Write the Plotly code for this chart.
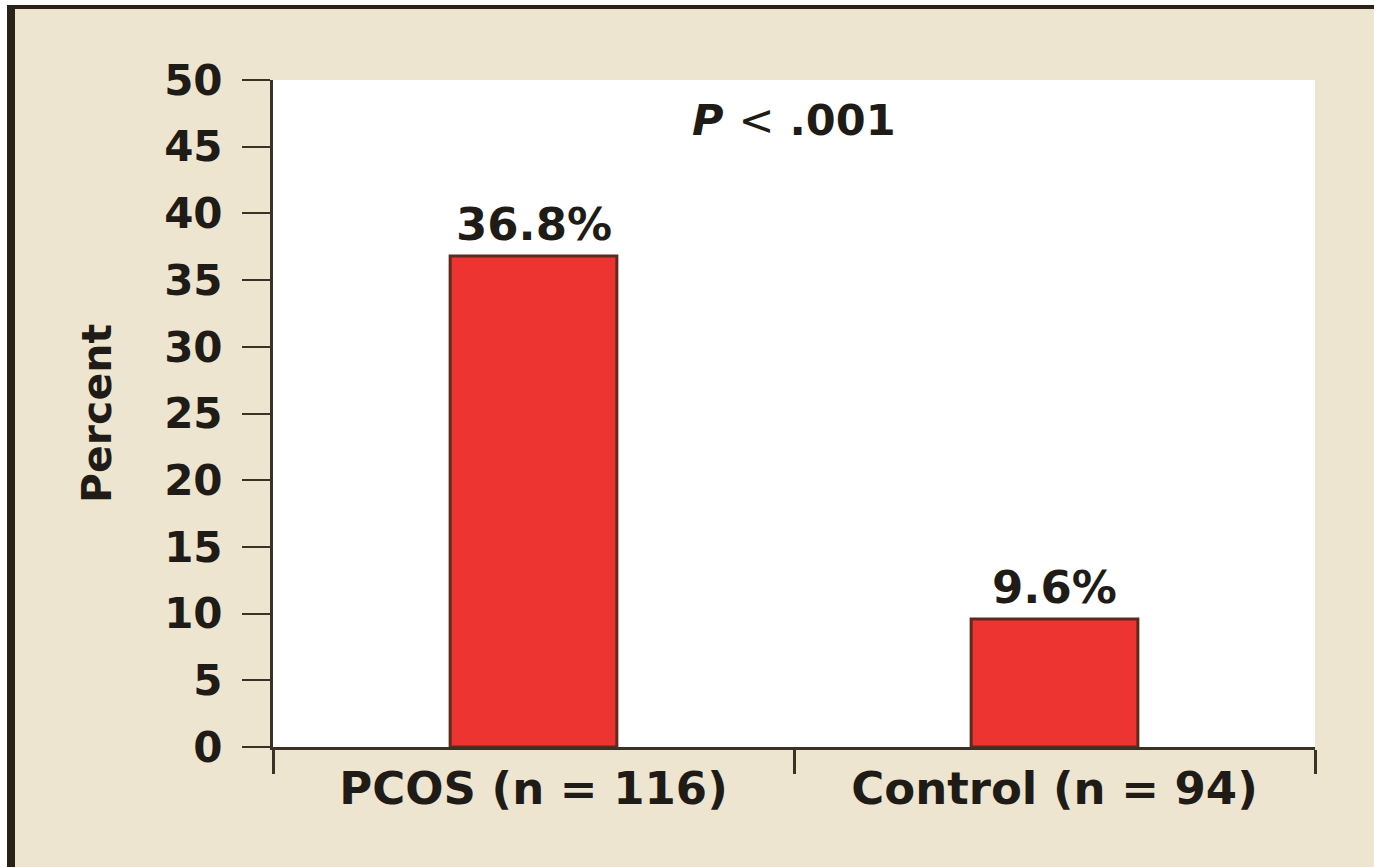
import plotly.graph_objects as go

categories = ["PCOS (n = 116)", "Control (n = 94)"]
values = [36.8, 9.6]
value_labels = ["36.8%", "9.6%"]
y_ticks = [0, 5, 10, 15, 20, 25, 30, 35, 40, 45, 50]
p_text = "<i>P</i> <span style='font-weight:normal'>&lt;</span> .001"

W, H = 1374, 867
ML, MR, MT, MB = 273, 59, 80, 120
PW, PH = W - ML - MR, H - MT - MB

def px(x):
    return (x - ML) / PW

def py(y):
    return (H - MB - y) / PH

BG = "#EDE5CF"
DARK = "#2a2118"
FONT = "DejaVu Sans"
TXT = "#1f1b17"

fig = go.Figure()
fig.add_trace(go.Bar(
    x=categories, y=values, width=0.32,
    marker=dict(color="#EE3430", line=dict(color="#5e2a1f", width=3)),
    showlegend=False,
))

for c, v, t in zip(categories, values, value_labels):
    fig.add_annotation(x=c, y=v, text=t, showarrow=False, yanchor="bottom", yshift=3,
                       font=dict(family=FONT, size=45, color=TXT, weight="bold"))

fig.add_annotation(xref="paper", x=0.5, y=47, text=p_text, showarrow=False,
                   yanchor="middle", xanchor="center",
                   font=dict(family=FONT, size=43, color=TXT, weight="bold"))

shapes = [
    dict(type="rect", xref="paper", yref="paper", x0=px(0), x1=px(W), y0=py(0), y1=py(5),
         fillcolor="white", line=dict(width=0), layer="below"),
    dict(type="rect", xref="paper", yref="paper", x0=px(0), x1=px(7), y0=py(0), y1=py(H),
         fillcolor="white", line=dict(width=0), layer="below"),
    dict(type="rect", xref="paper", yref="paper", x0=px(7), x1=px(W), y0=py(5), y1=py(9),
         fillcolor=DARK, line=dict(width=0)),
    dict(type="rect", xref="paper", yref="paper", x0=px(7), x1=px(15), y0=py(5), y1=py(H),
         fillcolor=DARK, line=dict(width=0)),
]

fig.update_layout(
    width=W, height=H,
    margin=dict(l=ML, r=MR, t=MT, b=MB, pad=0),
    paper_bgcolor=BG, plot_bgcolor="white",
    shapes=shapes,
    font=dict(family=FONT, color=TXT),
    xaxis=dict(
        type="category", range=[-0.5, 1.5], tickson="boundaries",
        showline=True, linecolor="#3a3224", linewidth=3,
        ticks="outside", ticklen=24, tickwidth=3, tickcolor="#3a3224",
        tickfont=dict(family=FONT, size=45, weight="bold", color=TXT),
        showgrid=False, zeroline=False, fixedrange=True,
    ),
    yaxis=dict(
        range=[0, 50], tickvals=y_ticks, ticktext=[str(v) for v in y_ticks],
        showline=True, linecolor="#3a3224", linewidth=3,
        ticks="outside", ticklen=28, tickwidth=2, tickcolor="#3a3224",
        ticklabelstandoff=11,
        tickfont=dict(family=FONT, size=42, weight="bold", color=TXT),
        title=dict(text="Percent", standoff=40,
                   font=dict(family=FONT, size=41, color=TXT, weight="bold")),
        showgrid=False, zeroline=False, fixedrange=True,
    ),
)

fig.write_html("out.html", config={"displayModeBar": False},
               post_script="document.body.style.margin='0';document.body.style.overflow='hidden';")
